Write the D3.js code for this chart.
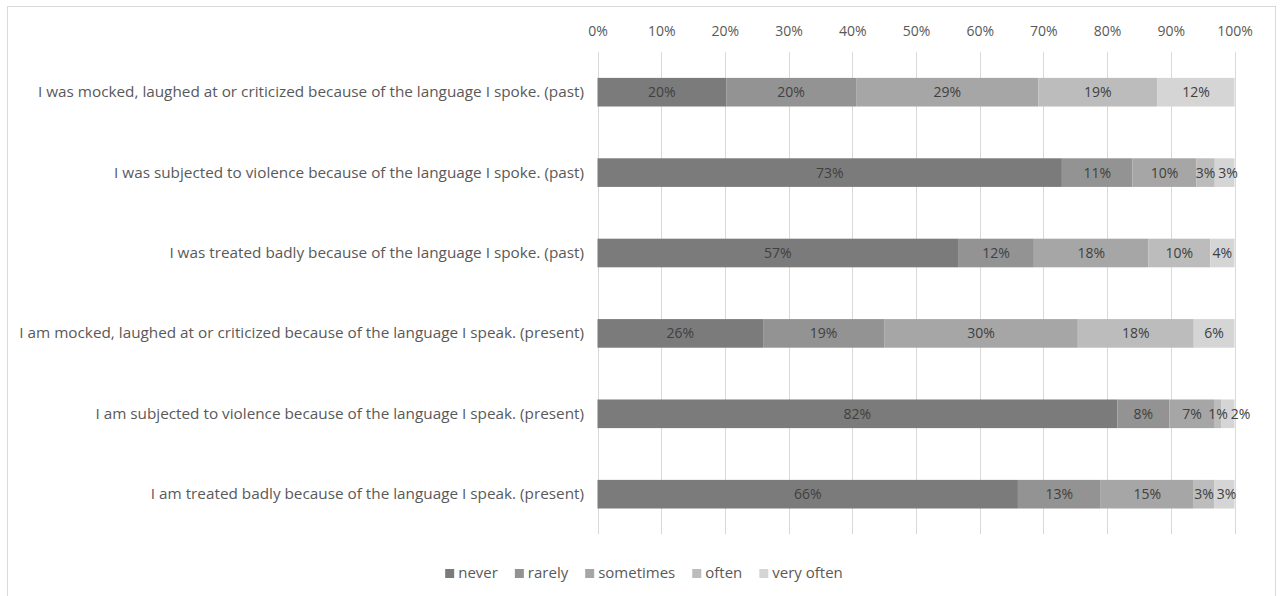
<!DOCTYPE html>
<html><head><meta charset="utf-8">
<script src="https://cdn.jsdelivr.net/npm/d3@7"></script>
<style>
html,body{margin:0;padding:0;background:#fff;}
svg{display:block;}
text{font-family:"Open Sans",sans-serif;}
</style></head>
<body>
<svg id="chart" width="1280" height="596"></svg>
<script>
const categories = [
  "I was mocked, laughed at or criticized because of the language I spoke. (past)",
  "I was subjected to violence because of the language I spoke. (past)",
  "I was treated badly because of the language I spoke. (past)",
  "I am mocked, laughed at or criticized because of the language I speak. (present)",
  "I am subjected to violence because of the language I speak. (present)",
  "I am treated badly because of the language I speak. (present)"
];
const seriesNames = ["never", "rarely", "sometimes", "often", "very often"];
const never     = [20.2, 72.9, 56.6, 26.0, 81.6, 66.0];
const rarely    = [20.4, 11.1, 11.9, 19.0,  8.2, 13.0];
const sometimes = [28.6, 10.0, 18.0, 30.4,  7.1, 14.6];
const often     = [18.7,  2.9,  9.7, 18.2,  1.0,  3.2];
const veryOften = [12.1,  3.1,  3.8,  6.4,  2.1,  3.2];
const tickValues = [0, 10, 20, 30, 40, 50, 60, 70, 80, 90, 100];
const colors = ["#7b7b7b", "#939393", "#a6a6a6", "#bcbcbc", "#d5d5d5"];

const seriesData = [never, rarely, sometimes, often, veryOften];
const rows = categories.map((c, i) => {
  const o = {category: c};
  seriesNames.forEach((s, j) => o[s] = seriesData[j][i]);
  return o;
});

const svg = d3.select("#chart");
const textColor = "#595959";

svg.append("rect").attr("x", 7.5).attr("y", 6.5).attr("width", 1268).attr("height", 600)
  .attr("fill", "#fff").attr("stroke", "#d9d9d9").attr("stroke-width", 1);

const plotLeft = 597.5, plotRight = 1234.5, plotTop = 52, plotBottom = 534.4;
const x = d3.scaleLinear().domain([0, 100]).range([plotLeft, plotRight]);
const y = d3.scaleBand().domain(categories).range([plotTop, plotBottom]).paddingInner(0.644).paddingOuter(0.322);

svg.append("g").selectAll("line").data(tickValues).join("line")
  .attr("x1", d => Math.round(x(d)) + 0.5).attr("x2", d => Math.round(x(d)) + 0.5)
  .attr("y1", plotTop).attr("y2", plotBottom)
  .attr("stroke", "#d9d9d9").attr("stroke-width", 1);

const xAxis = d3.axisTop(x).tickValues(tickValues).tickFormat(d => d + "%").tickSize(0).tickPadding(0);
const ax = svg.append("g").attr("transform", "translate(0,36)").call(xAxis);
ax.select(".domain").remove();
ax.selectAll("text").attr("font-family", "'Open Sans',sans-serif").attr("font-size", 14)
  .attr("fill", textColor).attr("dy", 0);

const stacked = d3.stack().keys(seriesNames)(rows);
const g = svg.append("g");
const labelNodes = categories.map(() => []);
stacked.forEach((layer, j) => {
  const lg = g.append("g");
  lg.selectAll("rect").data(layer).join("rect")
    .attr("x", d => x(d[0])).attr("width", d => x(d[1]) - x(d[0]))
    .attr("y", d => y(d.data.category)).attr("height", y.bandwidth())
    .attr("fill", colors[j]);
});
stacked.forEach((layer, j) => {
  const lg = g.append("g");
  lg.selectAll("text").data(layer).join("text")
    .attr("x", d => (x(d[0]) + x(d[1])) / 2)
    .attr("y", d => y(d.data.category) + y.bandwidth() / 2)
    .attr("dy", "0.35em").attr("text-anchor", "middle")
    .attr("font-size", 14).attr("fill", "#404040")
    .text(d => Math.round(d[1] - d[0]) + "%")
    .each(function(d, i) { labelNodes[i].push(this); });
});
// avoid overlapping labels of small segments (shift right, like the reference)
labelNodes.forEach(nodes => {
  let prevRight = -Infinity;
  nodes.forEach(n => {
    const w = n.getComputedTextLength();
    let cxv = +n.getAttribute("x");
    if (cxv - w / 2 < prevRight + 3) cxv = prevRight + 3 + w / 2;
    n.setAttribute("x", cxv);
    prevRight = cxv + w / 2;
  });
});

const yAxis = d3.axisLeft(y).tickSize(0).tickPadding(0);
const ay = svg.append("g").attr("transform", "translate(584,0)").call(yAxis);
ay.select(".domain").remove();
ay.selectAll("text").attr("font-family", "'Open Sans',sans-serif").attr("font-size", 15.3)
  .attr("fill", textColor);

const leg = svg.append("g");
let cx = 0;
const items = [];
seriesNames.forEach((s, j) => {
  const it = leg.append("g");
  it.append("rect").attr("x", 0).attr("y", -4).attr("width", 9).attr("height", 9).attr("fill", colors[j]);
  const t = it.append("text").attr("x", 13).attr("dy", "0.35em").attr("font-size", 15).attr("fill", textColor).text(s);
  const w = 13 + t.node().getComputedTextLength();
  items.push({it, x: cx});
  cx += w + 17;
});
const total = cx - 17;
const startX = 644 - total / 2;
items.forEach(d => d.it.attr("transform", `translate(${startX + d.x},573)`));
</script>
</body></html>
